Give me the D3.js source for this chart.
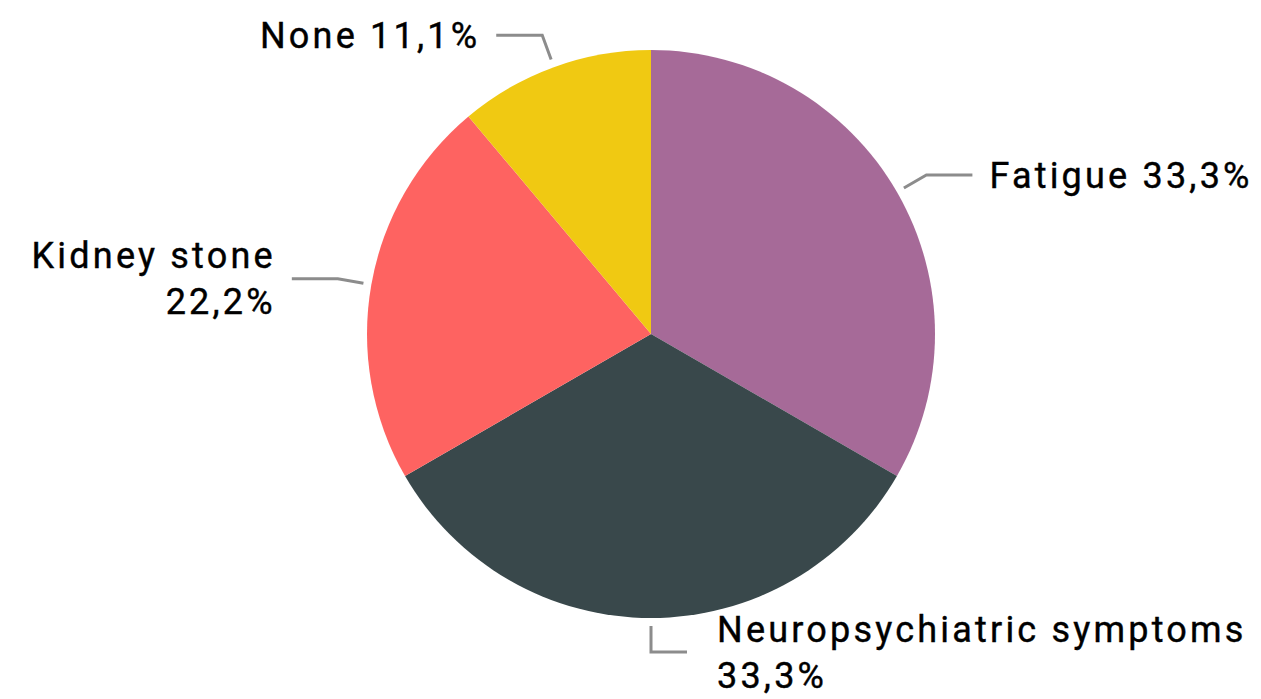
<!DOCTYPE html>
<meta charset="utf-8">
<style>
  body { margin: 0; background: #fff; }
  svg { display: block; }
  .lbl { font-family: Roboto, "Noto Sans", sans-serif; font-weight: 400; font-size: 36px; letter-spacing: 3.2px; fill: #000; stroke: #000; stroke-width: 0.4px; }
  .leader { fill: none; stroke: #8c8c8c; stroke-width: 3; }
</style>
<body></body>
<script src="https://cdn.jsdelivr.net/npm/d3@7"></script>
<script>
// data
var categories = ["Fatigue", "Neuropsychiatric symptoms", "Kidney stone", "None"];
var values = [33.3, 33.3, 22.2, 11.1];
var valueLabels = ["33,3%", "33,3%", "22,2%", "11,1%"];
var colors = ["#a66a98", "#39484b", "#fe6361", "#f0c912"];
// how each label is wrapped
var labelLines = [
  ["Fatigue 33,3%"],
  ["Neuropsychiatric symptoms", "33,3%"],
  ["Kidney stone", "22,2%"],
  ["None 11,1%"]
];

var w = 1261, h = 699;
var cx = 651, cy = 334, r = 284;

var svg = d3.select("body").append("svg")
    .attr("width", w)
    .attr("height", h);

var g = svg.append("g")
    .attr("transform", "translate(" + cx + "," + cy + ")");

var pie = d3.pie().sort(null).value(function(d) { return d; });
var arcs = pie(values);

var arc = d3.arc().innerRadius(0).outerRadius(r);

g.selectAll("path.slice")
    .data(arcs)
    .enter()
    .append("path")
    .attr("class", "slice")
    .attr("d", arc)
    .attr("fill", function(d, i) { return colors[i]; });

// leader lines + labels
var lineH = 46;
arcs.forEach(function(d, i) {
    var a = (d.startAngle + d.endAngle) / 2;
    var sx = Math.sin(a), sy = -Math.cos(a);
    var p0 = [sx * (r + 8), sy * (r + 8)];
    var p1 = [sx * (r + 34), sy * (r + 34)];
    var right = sx >= -0.01;
    var hl = (i == 1) ? 36 : 46;
    var p2 = [p1[0] + (right ? hl : -hl), p1[1]];

    g.append("path")
        .attr("class", "leader")
        .attr("d", d3.line()([p0, p1, p2]));

    var lines = labelLines[i];
    var gap = (i == 1) ? 30 : (right ? 17 : 16);
    var tx = p2[0] + (right ? gap : -gap);
    var top = p2[1] - (lines.length - 1) * lineH / 2;
    var t = g.append("text")
        .attr("class", "lbl")
        .attr("text-anchor", right ? "start" : "end");
    lines.forEach(function(s, k) {
        t.append("tspan")
            .attr("x", tx)
            .attr("y", top + k * lineH)
            .attr("dy", "0.35em")
            .text(s);
    });
});
</script>
